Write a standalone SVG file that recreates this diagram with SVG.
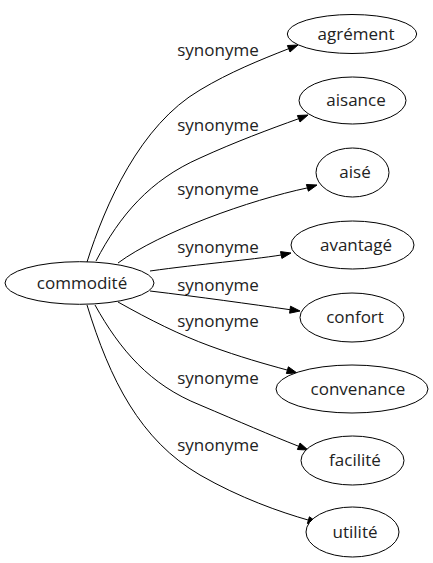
<svg xmlns="http://www.w3.org/2000/svg" width="433" height="563" viewBox="0 0 433 563">
<style>
.node ellipse{fill:#fff;stroke:#000;stroke-width:1}
.node text{font-family:"Open Sans","DejaVu Sans",sans-serif;font-size:17px;fill:#222;text-anchor:middle}
.edges path{fill:none;stroke:#000;stroke-width:1}
.edges polygon{fill:#000;stroke:#000;stroke-width:1}
.edges text{font-family:"Open Sans","DejaVu Sans",sans-serif;font-size:17px;fill:#222;text-anchor:middle}
</style>
<rect width="433" height="563" fill="#fff"/>
<g id="edges" class="edges">
<path d="M87,262 C105,205 140,125 200,90 C230,72 260,60 288.7,48.7"/>
<polygon points="298,45 287.4,45.5 290,52"/>
<text x="218" y="56">synonyme</text>
<path d="M96,261 C120,215 150,180 200,158 C235,142 270,129 298.7,118.7"/>
<polygon points="308,115 297.4,115.5 300,122"/>
<text x="218" y="131">synonyme</text>
<path d="M118,263 C160,232 250,200 307.4,187.9"/>
<polygon points="317,185 306.4,184.5 308.4,191.2"/>
<text x="218" y="195">synonyme</text>
<path d="M150,271 C200,264 250,260 281.2,255"/>
<polygon points="291,253 280.5,251.6 281.9,258.4"/>
<text x="218" y="253">synonyme</text>
<path d="M150,291 C200,297 250,304 290.1,309.7"/>
<polygon points="300,311 290.5,306.2 289.6,313.2"/>
<text x="218" y="291">synonyme</text>
<path d="M118,302 C150,320 180,335 210,346 C240,357 265,364 287.4,370.1"/>
<polygon points="297,373 288.4,366.8 286.4,373.5"/>
<text x="218" y="327">synonyme</text>
<path d="M95,305 C120,350 150,385 200,405 C240,422 270,435 298.7,446.3"/>
<polygon points="308,450 300,443 297.4,449.5"/>
<text x="218" y="384">synonyme</text>
<path d="M87,305 C110,380 140,440 200,475 C240,498 280,512 308.4,520.1"/>
<polygon points="318,523 309.4,516.8 307.4,523.5"/>
<text x="218" y="451">synonyme</text>
</g>
<g id="commodite" class="node"><ellipse cx="79.5" cy="283" rx="74.5" ry="21.3"/><text x="82" y="289">commodité</text></g>
<g id="agrement" class="node"><ellipse cx="352" cy="34" rx="64.7" ry="19.5"/><text x="356" y="40">agrément</text></g>
<g id="aisance" class="node"><ellipse cx="352.5" cy="100.5" rx="53.5" ry="23.5"/><text x="356" y="106">aisance</text></g>
<g id="aise" class="node"><ellipse cx="352.5" cy="172.5" rx="36.5" ry="24.5"/><text x="355" y="178">aisé</text></g>
<g id="avantage" class="node"><ellipse cx="352.5" cy="245" rx="61.5" ry="24"/><text x="356" y="251">avantagé</text></g>
<g id="confort" class="node"><ellipse cx="352" cy="317.5" rx="52" ry="24.5"/><text x="355" y="323">confort</text></g>
<g id="convenance" class="node"><ellipse cx="352" cy="389" rx="76" ry="24"/><text x="358" y="395">convenance</text></g>
<g id="facilite" class="node"><ellipse cx="352.5" cy="460.5" rx="51.5" ry="24.5"/><text x="355" y="466">facilité</text></g>
<g id="utilite" class="node"><ellipse cx="352.5" cy="532" rx="46.5" ry="25"/><text x="355" y="538">utilité</text></g>
</svg>
